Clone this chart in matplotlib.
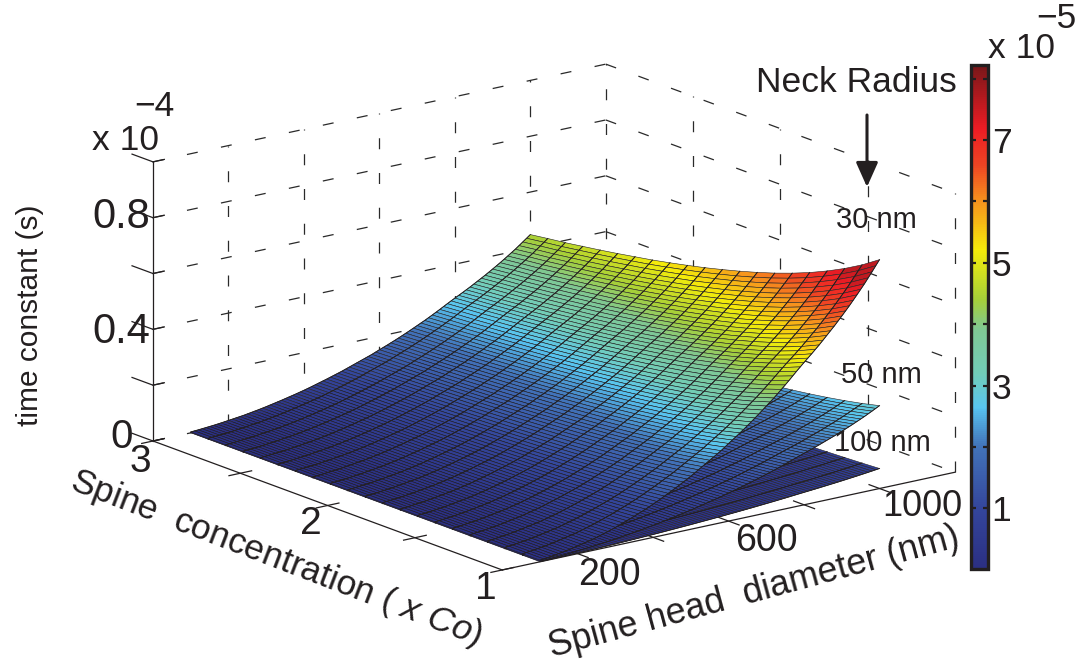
import numpy as np
import matplotlib
matplotlib.use('Agg')
import matplotlib.pyplot as plt
from matplotlib.cm import ScalarMappable
from matplotlib.colors import LinearSegmentedColormap, Normalize
from mpl_toolkits.mplot3d import proj3d

plt.rcParams['font.family'] = ['Liberation Sans', 'DejaVu Sans']
plt.rcParams['mathtext.fontset'] = 'custom'
plt.rcParams['mathtext.rm'] = 'Liberation Sans'
plt.rcParams['mathtext.it'] = 'Liberation Sans:italic'

# axes
diameter_ticks = [200, 400, 600, 800, 1000, 1200]
diameter_labels = {200: '200', 600: '600', 1000: '1000'}
conc_ticks = [1, 1.5, 2, 2.5, 3]
tau_ticks = [0, 0.2, 0.4, 0.6, 0.8, 1.0]

# surface grid (nm, x Co)
diameters = np.arange(100, 1001, 10)
concentrations = np.arange(1, 3.01, 0.1)

# time constant along the Co = 1 edge for the 30 nm neck, x 1e-4 s
tau_edge = [0.0060, 0.0075, 0.0090, 0.0110, 0.0130, 0.0150, 0.0170, 0.0195, 0.0220, 0.0250,
            0.0280, 0.0310, 0.0340, 0.0370, 0.0400, 0.0440, 0.0480, 0.0520, 0.0560, 0.0605,
            0.0650, 0.0700, 0.0750, 0.0800, 0.0850, 0.0905, 0.0960, 0.1015, 0.1070, 0.1130,
            0.1190, 0.1255, 0.1320, 0.1390, 0.1460, 0.1530, 0.1600, 0.1675, 0.1750, 0.1825,
            0.1900, 0.1985, 0.2070, 0.2155, 0.2240, 0.2325, 0.2410, 0.2495, 0.2580, 0.2680,
            0.2780, 0.2875, 0.2970, 0.3070, 0.3170, 0.3275, 0.3380, 0.3490, 0.3600, 0.3715,
            0.3830, 0.3945, 0.4060, 0.4185, 0.4310, 0.4440, 0.4570, 0.4705, 0.4840, 0.4970,
            0.5100, 0.5225, 0.5350, 0.5480, 0.5610, 0.5750, 0.5890, 0.6030, 0.6170, 0.6320,
            0.6470, 0.6625, 0.6780, 0.6945, 0.7110, 0.7280, 0.7450, 0.7635, 0.7820, 0.8010,
            0.8200]
# relative drop along the 1000 nm edge, Co = 1 to 3
conc_drop = [1.000, 0.949, 0.905, 0.866, 0.831, 0.800, 0.772, 0.747, 0.724, 0.703, 0.683,
             0.665, 0.648, 0.632, 0.618, 0.604, 0.591, 0.579, 0.567, 0.557, 0.546]
# height of each neck radius at the far corner, relative to 30 nm
neck_names = ['100 nm', '50 nm', '30 nm']
neck_scale = [0.0875, 0.362, 1.0]

# colorbar
cbar_ticks = [1, 2, 3, 4, 5, 6, 7, 8]
cbar_labels = ['1', '', '3', '', '5', '', '7', '']
cbar_max = 8.25
color_cap = 7.6
color_stops = [0, 1, 2, 2.64, 3.2, 3.9, 4.4, 5.2, 6, 6.6, 7.2, 8.25]
color_list = ['#2b2f82', '#34469c', '#4273b9', '#58c5f0', '#72cdb9', '#7fc794',
              '#a5cf3a', '#f5ec0a', '#f7941d', '#ef4423', '#ed1c24', '#751719']

INK = '#231f20'
W, H = 1081, 663


def put_text(x, y, s, size=25.5, ha='center', rot=0, **kw):
    fig.text(x / W, 1 - y / H, s, fontsize=size, ha=ha, va='center', color=INK,
             rotation=rot, rotation_mode='anchor', **kw)


def screen(d, c, t):
    x2, y2, _ = proj3d.proj_transform(d, c, t, ax.get_proj())
    return ax.transData.transform((x2, y2))


fig = plt.figure(figsize=(W / 100, H / 100), dpi=100, facecolor='white')
ax = fig.add_axes([0.1, 0.1, 0.6, 0.6 * W / H], projection='3d', computed_zorder=False)
ax.set_proj_type('ortho')
ax.view_init(elev=16.4, azim=-127.4)
ax.set_box_aspect((570, 575, 291))
ax.set_xlim(0, 1200, view_margin=0)
ax.set_ylim(1, 3, view_margin=0)
ax.set_zlim(0, 1.0, view_margin=0)
ax.set_axis_off()
ax.patch.set_alpha(0)

# dashed grid on the two back walls
dash = dict(color='#2a2a2a', lw=0.9, ls=(0, (8.8, 19)), zorder=0)
for t in tau_ticks:
    ax.plot([0, 1200], [3, 3], [t, t], **dash)
    ax.plot([1200, 1200], [3, 1], [t, t], **dash)
for d in diameter_ticks:
    ax.plot([d, d], [3, 3], [0, 1], **dash)
for c in conc_ticks[:-1]:
    ax.plot([1200, 1200], [c, c], [0, 1], **dash)

# box edges and ticks
solid = dict(color=INK, lw=0.9, zorder=1)
ax.plot([0, 0], [3, 3], [0, 1], **solid)
ax.plot([0, 0], [3, 1], [0, 0], **solid)
ax.plot([0, 1200], [1, 1], [0, 0], **solid)
for t in tau_ticks:
    ax.plot([0, 30], [3, 3], [t, t], **solid)
    ax.plot([0, 0], [3, 3.12], [t, t], **solid)
for c in conc_ticks:
    ax.plot([-30, 30], [c, c], [0, 0], **solid)
for d in diameter_ticks[:-1]:
    ax.plot([d, d], [0.94, 1.06], [0, 0], **solid)

# surfaces, lowest first
cmap = LinearSegmentedColormap.from_list(
    'jetish', [(s / cbar_max, col) for s, col in zip(color_stops, color_list)])
norm = Normalize(0, cbar_max)
X, Y = np.meshgrid(diameters, concentrations)
for i, scale in enumerate(neck_scale):
    Z = np.outer(conc_drop, tau_edge) * scale
    faces = cmap(norm(np.minimum(Z * 10, color_cap)))
    ax.plot_surface(X, Y, Z, facecolors=faces, rstride=1, cstride=1, shade=False,
                    edgecolor=INK, linewidth=0.4, antialiased=True, zorder=2 + 2 * i)
    for j in range(len(concentrations)):
        ax.plot(diameters, Y[j], Z[j], color=INK, lw=0.65, zorder=3 + 2 * i)

# fit the box to its place in the figure
for _ in range(2):
    fig.canvas.draw()
    left = screen(0, 3, 0)
    right = screen(1200, 1, 0)
    pos = ax.get_position(original=True)
    s = (955 - 153) / (right[0] - left[0])
    size = pos.width * W * s
    fig.canvas.draw()
    ax.set_position([pos.x0, pos.y0, size / W, size / H])
    fig.canvas.draw()
    left = screen(0, 3, 0)
    pos = ax.get_position(original=True)
    ax.set_position([pos.x0 + (153 - left[0]) / W, pos.y0 + (H - 441 - left[1]) / H,
                     pos.width, pos.height])

# tick labels
put_text(122, 437, '0', size=29)
put_text(121, 332, '0.4', size=30)
put_text(121, 217, '0.8', size=30)
put_text(125, 141, 'x 10')
put_text(154, 106, '\u22124')
put_text(140, 462, '3', size=28)
put_text(311, 524, '2', size=28)
put_text(486, 589, '1', size=28)
put_text(609, 575, diameter_labels[200], size=27)
put_text(766, 541, diameter_labels[600], size=27)
put_text(922, 507, diameter_labels[1000], size=26)

# axis labels
put_text(30, 315, 'time constant (s)', size=21.5, rot=90)
put_text(72, 480, 'Spine  concentration ( $\\mathit{x\\ Co}$)', ha='left', rot=-21)
put_text(549, 648, 'Spine head  diameter (nm)', size=25.8, ha='left', rot=15.2)

# neck radius notes
put_text(856, 82, 'Neck Radius')
put_text(876, 220, neck_names[2], size=21)
put_text(881, 375, neck_names[1], size=21)
put_text(882, 443, neck_names[0], size=21)
ax.annotate('', xy=(867, H - 187), xytext=(867, H - 115),
            xycoords='figure pixels', textcoords='figure pixels',
            arrowprops=dict(arrowstyle='-|>,head_length=1.5,head_width=0.67',
                            color=INK, lw=2.2, shrinkA=0, shrinkB=0))

# colorbar
cax = fig.add_axes([970.5 / W, 1 - 568.5 / H, 17 / W, 504 / H])
cb = fig.colorbar(ScalarMappable(norm=norm, cmap=cmap), cax=cax, ticks=cbar_ticks)
cb.ax.set_ylim(0.02, 8.23)
cb.outline.set_linewidth(2.4)
cb.outline.set_edgecolor(INK)
cb.ax.tick_params(left=True, right=True, direction='in', length=3.5, width=1.6, color=INK,
                  labelsize=25.5, labelcolor=INK, pad=3)
cb.ax.set_yticklabels(cbar_labels)
put_text(1022, 48, 'x 10')
put_text(1056, 19, '\u22125')

fig.savefig('out.png', dpi=100, facecolor='white')
